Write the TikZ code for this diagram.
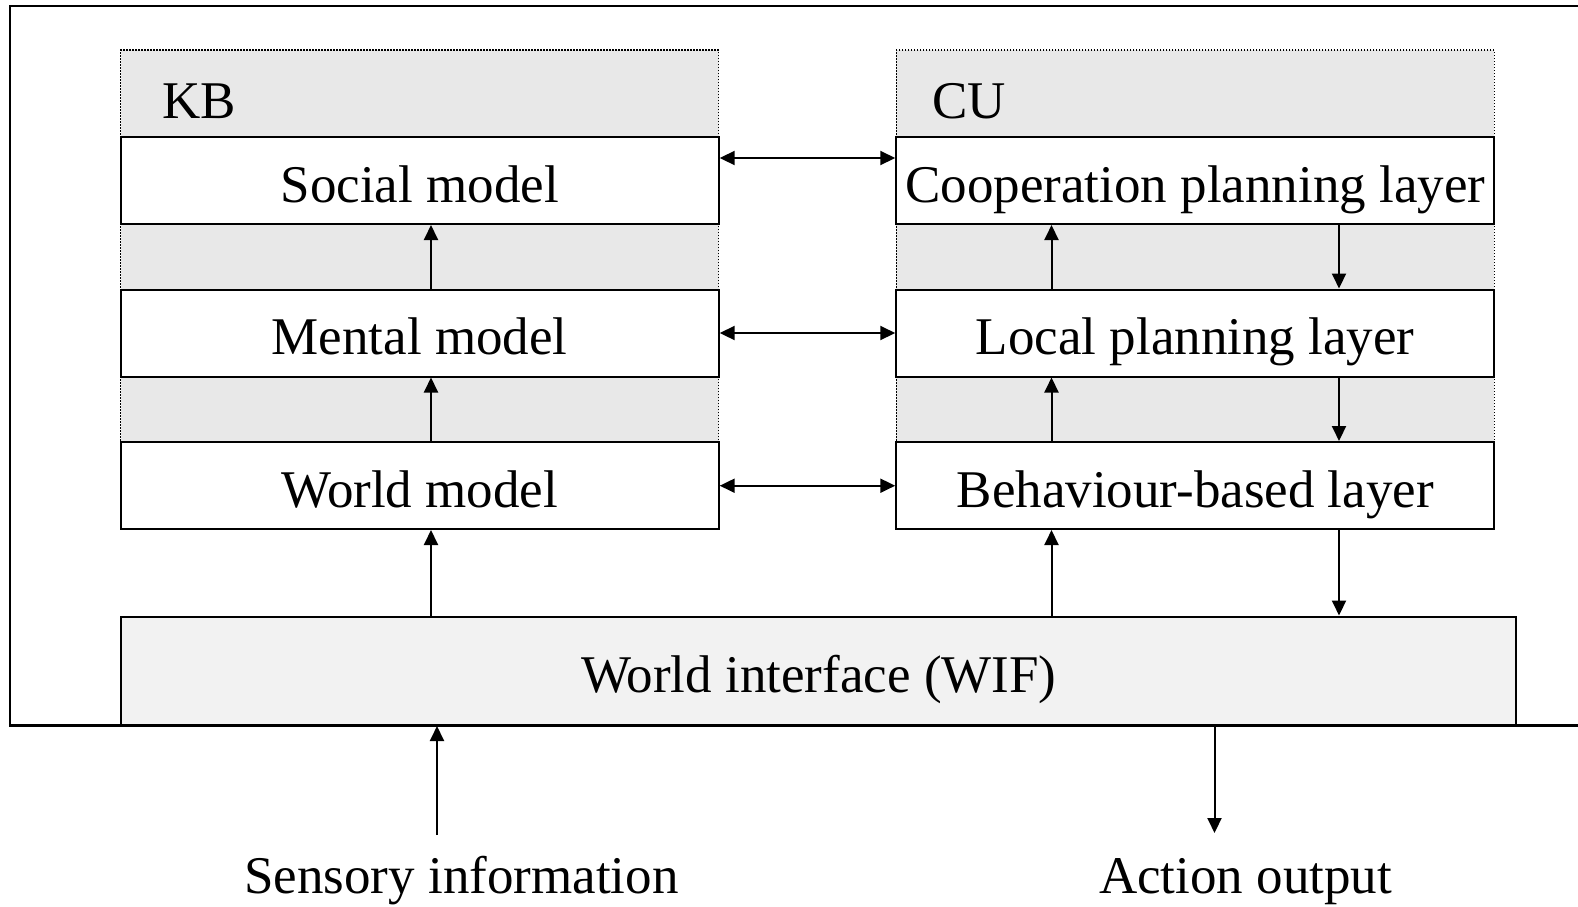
\documentclass[tikz,border=0pt]{standalone}
\usepackage{fontspec}
\setmainfont{Liberation Serif}
\usetikzlibrary{arrows.meta}
\definecolor{hdrgray}{HTML}{E8E8E8}
\definecolor{wifgray}{HTML}{F2F2F2}
\begin{document}
\begin{tikzpicture}[x=1pt,y=-1pt,
  font=\fontsize{53}{60}\selectfont,
  container/.style={draw, fill=hdrgray, line width=1.5pt, dash pattern=on 1.5pt off 1.5pt,
    minimum width=598pt, minimum height=479pt, inner sep=0pt},
  layerbox/.style={draw, line width=2pt, fill=white, minimum width=598pt, minimum height=87pt,
    inner sep=0pt, text height=43pt, text depth=0pt},
  wifbox/.style={draw, line width=2pt, fill=wifgray, minimum width=1395pt, minimum height=108.5pt,
    inner sep=0pt, text height=43pt, text depth=0pt},
  lbl/.style={anchor=base, inner sep=0pt},
  arr/.style={line width=2pt, -{Triangle[length=15pt,width=14pt]}},
  dbl/.style={line width=2pt, {Triangle[length=15pt,width=14pt]}-{Triangle[length=15pt,width=14pt]}},
  frame/.style={line width=2.5pt}
]
\useasboundingbox (0,0) rectangle (1578,906);

% outer frame (open on the right)
\coordinate (frTR) at (1590,6);
\coordinate (frTL) at (10,6);
\coordinate (frBL) at (10,725.5);
\coordinate (frBR) at (1590,725.5);
\draw[frame] (frTR) -- (frTL) -- (frBL) -- (frBR);

% containers
\node[container] (kb) at (419.7,289.5) {};
\node[container] (cu) at (1195.25,289.5) {};
\node[lbl] (kblbl) at (199,118) {KB};
\node[lbl] (culbl) at (969,118) {CU};

% layers
\node[layerbox] (social) at (419.7,180.5) {Social model};
\node[layerbox] (mental) at (419.7,333) {Mental model};
\node[layerbox] (world)  at (419.7,485.5) {World model};
\node[layerbox] (coop)  at (1195.25,180.5) {Cooperation planning layer};
\node[layerbox] (local) at (1195.25,333) {Local planning layer};
\node[layerbox] (behav) at (1195.25,485.5) {Behaviour-based layer};

% world interface
\node[wifbox] (wif) at (818.75,670.75) {World interface (WIF)};

% helper coordinates
\coordinate (xL) at (431,0);
\coordinate (xU) at (1051.5,0);
\coordinate (xD) at (1339,0);
\coordinate (yA) at (0,158);
\coordinate (yB) at (0,333);
\coordinate (yC) at (0,485.7);

% left column upward arrows
\draw[arr] (wif.north -| xL) -- (world.south -| xL);
\draw[arr] (world.north -| xL) -- (mental.south -| xL);
\draw[arr] (mental.north -| xL) -- (social.south -| xL);

% right column upward arrows
\draw[arr] (wif.north -| xU) -- (behav.south -| xU);
\draw[arr] (behav.north -| xU) -- (local.south -| xU);
\draw[arr] (local.north -| xU) -- (coop.south -| xU);

% right column downward arrows
\draw[arr] (coop.south -| xD) -- (local.north -| xD);
\draw[arr] (local.south -| xD) -- (behav.north -| xD);
\draw[arr] (behav.south -| xD) -- (wif.north -| xD);

% horizontal double arrows
\draw[dbl] (social.east |- yA) -- (coop.west |- yA);
\draw[dbl] (mental.east |- yB) -- (local.west |- yB);
\draw[dbl] (world.east |- yC) -- (behav.west |- yC);

% input / output
\node[lbl] (sens) at (461.5,893) {Sensory information};
\node[lbl] (act) at (1245.5,893) {Action output};
\coordinate (sensTail) at (437,835);
\coordinate (actTip) at (1214.5,833);
\draw[arr] (sensTail) -- (sensTail |- wif.south);
\draw[arr] (actTip |- wif.south) -- (actTip);
\end{tikzpicture}
\end{document}
